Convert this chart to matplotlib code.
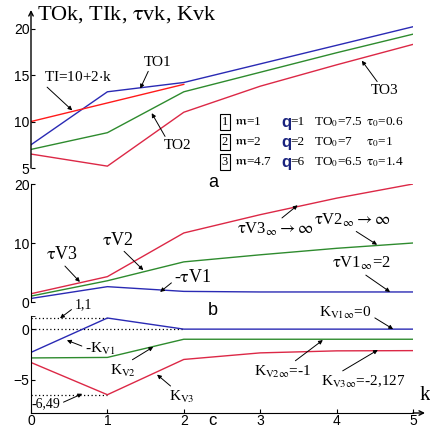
import matplotlib
matplotlib.use("Agg")
import matplotlib.pyplot as plt

plt.rcParams['font.family'] = ['Liberation Serif', 'DejaVu Serif']
plt.rcParams['mathtext.fontset'] = 'stix'

k = [0, 1, 2, 3, 4, 5]

# panel a: TO_k and TI_k
TO1 = [7.5, 13.2, 14.2, 16.2, 18.2, 20.2]
TO2 = [7.0, 8.8, 13.2, 15.3, 17.4, 19.4]
TO3 = [6.5, 5.2, 11.0, 13.8, 16.1, 18.3]
k_TI = [0, 1, 2]
TI = [10, 12, 14]

# panel b: tau_vk
tv1 = [0.6, 2.6, 1.8, 1.7, 1.7, 1.7]
tv2 = [1.0, 3.6, 6.8, 8.0, 9.1, 10.0]
tv3 = [1.4, 4.3, 11.7, 14.8, 17.6, 20.0]

# panel c: K_vk
kv1 = [-2.3, 1.1, 0.0, 0.0, 0.0, 0.0]
kv2 = [-2.85, -2.8, -1.0, -1.0, -1.0, -1.0]
kv3 = [-3.3, -6.49, -3.0, -2.35, -2.15, -2.127]

BLUE = '#2a2ab4'
GREEN = '#2e8b2e'
RED = '#ff1a1a'
CRIM = '#dc2846'

fig = plt.figure(figsize=(4.30, 4.28), dpi=100)
W, H = 430.0, 428.0
x0, x5 = 31, 413
PX = 76.4  # pixels per k unit


def make_ax(top_px, bot_px):
    return fig.add_axes([x0 / W, 1 - bot_px / H, (x5 - x0) / W, (bot_px - top_px) / H])


axa = make_ax(10, 168)
axb = make_ax(184, 302)
axc = make_ax(316, 413)

for ax in (axa, axb, axc):
    ax.set_xlim(0, 5)
    for s in ('top', 'right', 'bottom'):
        ax.spines[s].set_visible(False)
    ax.patch.set_visible(False)
    ax.tick_params(axis='y', direction='in', length=3, labelsize=10, pad=1)
    ax.tick_params(axis='x', bottom=False, labelbottom=False)
    for lab in ax.get_yticklabels():
        lab.set_family(['Liberation Sans'])

arrow_kw = dict(arrowstyle='-|>', color='black', lw=0.7, mutation_scale=6,
                shrinkA=0, shrinkB=0)

# ---- panel a
axa.set_ylim(5, 22)
axa.spines['left'].set_visible(False)
axa.annotate('', xy=(0, 1.0), xytext=(0, 0), xycoords='axes fraction',
             arrowprops=dict(arrowstyle='->', color='black', lw=1.0,
                             mutation_scale=8, shrinkA=0, shrinkB=0))
axa.set_yticks([5, 10, 15, 20])
axa.plot(k, TO1, color=BLUE, lw=1.0)
axa.plot(k, TO2, color=GREEN, lw=1.0)
axa.plot(k, TO3, color=CRIM, lw=1.0)
axa.plot(k_TI, TI, color=RED, lw=1.0)
axa.text(0.08, 21.5, 'TOk, TIk, $\\mathrm{\\tau}$vk, Kvk', fontsize=16, va='center')

axa.annotate('TO1', xy=(1.43, 13.55), xytext=(1.66, 16.4), fontsize=11,
             ha='center', va='center', arrowprops=dict(relpos=(0.2, 0), **arrow_kw))
axa.annotate('TI=10+2$\\cdot$k', xy=(0.54, 11.2), xytext=(0.62, 14.75), fontsize=11,
             ha='center', va='center', arrowprops=dict(relpos=(0.0, 0), **arrow_kw))
axa.annotate('TO2', xy=(1.58, 10.9), xytext=(1.92, 7.4), fontsize=11,
             ha='center', va='center', arrowprops=dict(relpos=(0.1, 1), **arrow_kw))
axa.annotate('TO3', xy=(4.33, 16.55), xytext=(4.63, 13.3), fontsize=11,
             ha='center', va='center', arrowprops=dict(relpos=(0.3, 1), **arrow_kw))

# parameter table
rows_n = ['1', '2', '3']
rows_m = ['1', '2', '4.7']
rows_q = ['1', '2', '6']
rows_TO0 = ['7.5', '7', '6.5']
rows_t0 = ['0.6', '1', '1.4']
row_px = [122, 142, 162]
for i in range(3):
    yv = 20 - (row_px[i] - 28) / 9.33
    axa.text((225 - x0) / PX, yv, rows_n[i], fontsize=9, ha='center', va='center',
             bbox=dict(boxstyle='square,pad=0.15', fc='white', ec='black', lw=0.8))
    axa.text((234 - x0) / PX, yv, '$\\mathfrak{m}$=' + rows_m[i], fontsize=9.5, va='center')
    axa.text((281 - x0) / PX, yv, 'q', fontsize=12, fontweight='bold', color='#1a237e',
             va='center', family=['Liberation Sans'])
    axa.text((290 - x0) / PX, yv, '=' + rows_q[i], fontsize=9.5, va='center')
    axa.text((314 - x0) / PX, yv, 'TO$_0$=' + rows_TO0[i], fontsize=9.5, va='center')
    axa.text((366 - x0) / PX, yv, '$\\mathrm{\\tau}_0$=' + rows_t0[i], fontsize=9.5, va='center')

axa.text(2.38, 3.4, 'a', fontsize=13, ha='center', va='center',
         family=['Liberation Sans'], clip_on=False)

# ---- panel b
axb.set_ylim(0, 20)
axb.spines['left'].set_bounds(0, 20)
axb.set_yticks([0, 10, 20])
axb.plot(k, tv1, color=BLUE, lw=1.0)
axb.plot(k, tv2, color=GREEN, lw=1.0)
axb.plot(k, tv3, color=CRIM, lw=1.0)

axb.annotate('$\\mathrm{\\tau}$V3', xy=(0.64, 3.4), xytext=(0.41, 8.0), fontsize=13,
             ha='center', va='center', arrowprops=dict(relpos=(0.5, 0), **arrow_kw))
axb.annotate('$\\mathrm{\\tau}$V2', xy=(1.47, 5.4), xytext=(1.14, 10.5), fontsize=13,
             ha='center', va='center', arrowprops=dict(relpos=(0.6, 0), **arrow_kw))
axb.annotate('-$\\mathrm{\\tau}$V1', xy=(1.69, 1.7), xytext=(2.12, 4.2), fontsize=13,
             ha='center', va='center', arrowprops=dict(relpos=(0.0, 0.3), **arrow_kw))
axb.annotate('$\\mathrm{\\tau}$V3$_\\infty$$\\rightarrow\\infty$', xy=(3.49, 16.4),
             xytext=(3.19, 12.3), fontsize=12, ha='center', va='center',
             arrowprops=dict(relpos=(0.55, 1), **arrow_kw))
axb.annotate('$\\mathrm{\\tau}$V2$_\\infty$$\\rightarrow\\infty$', xy=(4.53, 9.7),
             xytext=(4.2, 13.9), fontsize=12, ha='center', va='center',
             arrowprops=dict(relpos=(0.5, 0), **arrow_kw))
axb.annotate('$\\mathrm{\\tau}$V1$_\\infty$=2', xy=(4.7, 1.7), xytext=(4.33, 6.5),
             fontsize=12, ha='center', va='center',
             arrowprops=dict(relpos=(0.5, 0), **arrow_kw))
axb.text(2.38, -1.4, 'b', fontsize=13, ha='center', va='center',
         family=['Liberation Sans'], clip_on=False)

# ---- panel c
axc.set_ylim(-8.3, 1.3)
axc.spines['left'].set_bounds(-8.3, 1.3)
axc.set_yticks([-5, 0])
axc.set_yticks([1.3], minor=True)
axc.tick_params(axis='y', which='minor', direction='in', length=3)
axc.spines['bottom'].set_visible(True)
axc.tick_params(axis='x', bottom=True, labelbottom=True, direction='in', length=3,
                labelsize=10, pad=1)
axc.set_xticks(k)
for lab in axc.get_xticklabels():
    lab.set_family(['Liberation Sans'])
axc.annotate('', xy=((425 - x0) / (x5 - x0), 0), xytext=(1.0, 0), xycoords='axes fraction',
             arrowprops=dict(arrowstyle='->', color='black', lw=1.0,
                             mutation_scale=8, shrinkA=0, shrinkB=0))
axc.text(5.16, -6.6, 'k', fontsize=15, ha='center', va='center', clip_on=False)

axc.plot([0, 1], [1.1, 1.1], color='black', lw=0.9, ls=(0, (1, 2)))
axc.plot([0, 2], [0, 0], color='black', lw=0.9, ls=(0, (1, 2)))
axc.plot([0, 1], [-6.49, -6.49], color='black', lw=0.9, ls=(0, (1, 2)))
axc.plot(k, kv1, color=BLUE, lw=1.0)
axc.plot(k, kv2, color=GREEN, lw=1.0)
axc.plot(k, kv3, color=CRIM, lw=1.0)

axc.annotate('1,1', xy=(0.38, 1.08), xytext=(0.68, 2.4), fontsize=10,
             ha='center', va='center', annotation_clip=False,
             arrowprops=dict(relpos=(0.0, 0.3), **arrow_kw))
axc.annotate('-K$_{\\rm V1}$', xy=(0.47, -1.1), xytext=(0.9, -2.0), fontsize=11,
             ha='center', va='center', arrowprops=dict(relpos=(0.05, 0.6), **arrow_kw))
axc.annotate('K$_{\\rm V2}$', xy=(1.6, -1.76), xytext=(1.2, -4.1), fontsize=11,
             ha='center', va='center', arrowprops=dict(relpos=(0.7, 1), **arrow_kw))
axc.annotate('K$_{\\rm V3}$', xy=(1.65, -4.5), xytext=(1.97, -6.7), fontsize=11,
             ha='center', va='center', arrowprops=dict(relpos=(0.2, 1), **arrow_kw))
axc.annotate('-6,49', xy=(0.67, -6.4), xytext=(0.2, -7.35), fontsize=10,
             ha='center', va='center', arrowprops=dict(relpos=(1.0, 0.5), **arrow_kw))
axc.annotate('K$_{\\rm V1\\infty}$=0', xy=(4.74, 0.0), xytext=(4.12, 1.6), fontsize=11,
             ha='center', va='center', annotation_clip=False,
             arrowprops=dict(relpos=(0.95, 0.4), **arrow_kw))
axc.annotate('K$_{\\rm V2\\infty}$=-1', xy=(3.82, -1.08), xytext=(3.3, -4.2), fontsize=11,
             ha='center', va='center', arrowprops=dict(relpos=(0.65, 1), **arrow_kw))
axc.annotate('K$_{\\rm V3\\infty}$=-2,127', xy=(4.54, -2.06), xytext=(4.35, -5.2), fontsize=11,
             ha='center', va='center', arrowprops=dict(relpos=(0.2, 1), **arrow_kw))
axc.text(2.38, -9.0, 'c', fontsize=12, ha='center', va='center',
         family=['Liberation Sans'], clip_on=False)

fig.savefig('out.png', dpi=100)
